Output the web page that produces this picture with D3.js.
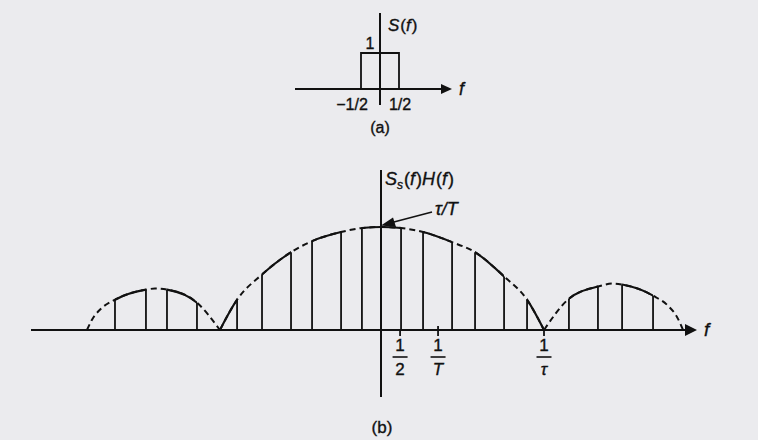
<!DOCTYPE html>
<html>
<head>
<meta charset="utf-8">
<script src="https://cdn.jsdelivr.net/npm/d3@7/dist/d3.min.js"></script>
<style>
  html, body { margin: 0; padding: 0; background: #ebebee; }
  svg { display: block; }
  text { font-family: "Liberation Sans", Arial, sans-serif; fill: #111; stroke: #111; stroke-width: 0.35; }
</style>
</head>
<body>
<svg id="chart" width="758" height="440"></svg>
<script>
// ---------- DATA (frequencies in units of 1/tau, amplitudes in units of tau/T) ----------
// (a) baseband spectrum S(f): rectangle from -1/2 to 1/2 of height 1
const rectSpanA = [-0.5, 0.5];
const rectHeightA = 1;
const ticksA = [{v: -0.5, label: "\u22121/2"}, {v: 0.5, label: "1/2"}];

// (b) envelope lobes of S_s(f)H(f)
const leftLobe = [
  [-1.804, 0], [-1.773, 0.10], [-1.718, 0.206], [-1.632, 0.294], [-1.442, 0.392],
  [-1.387, 0.402], [-1.313, 0.392], [-1.129, 0.265], [-0.988, 0]
];
const mainLobe = [
  [-0.988, 0], [-0.883, 0.294], [-0.730, 0.539], [-0.552, 0.755], [-0.423, 0.863],
  [-0.245, 0.951], [-0.117, 0.99], [0, 1], [0.123, 0.99], [0.258, 0.951],
  [0.436, 0.853], [0.577, 0.755], [0.755, 0.52], [0.896, 0.294], [1.0, 0]
];
const rightLobe = [
  [1.0, 0], [1.153, 0.304], [1.331, 0.422], [1.423, 0.451], [1.479, 0.441],
  [1.669, 0.333], [1.761, 0.235], [1.816, 0.127], [1.853, 0]
];
// spectral bands (solid top, vertical edges)
const bands = [
  [-1.632, -1.442], [-1.313, -1.129],
  [-0.988, -0.883], [-0.730, -0.552], [-0.423, -0.245], [-0.117, 0.123],
  [0.258, 0.436], [0.577, 0.755], [0.896, 1.0],
  [1.153, 1.331], [1.479, 1.669]
];
// tick marks and fraction labels on axis (b)
const ticksB = [
  {v: 0.117, num: "1", den: "2", italic: false},
  {v: 0.35, num: "1", den: "T", italic: true},
  {v: 1.0, num: "1", den: "\u03C4", italic: true}
];

// ---------- DRAWING ----------
const svg = d3.select("#chart");
const ink = "#111";

// ---- panel (a) ----
const xa = d3.scaleLinear().domain([0, 1]).range([380, 418]);
const ya = d3.scaleLinear().domain([0, 1]).range([89, 53]);
const ga = svg.append("g");
ga.append("line").attr("x1", 295).attr("x2", 445).attr("y1", ya(0)).attr("y2", ya(0))
  .attr("stroke", ink).attr("stroke-width", 2);
ga.append("path").attr("d", `M452,${ya(0)} L441,${ya(0) - 5} L441,${ya(0) + 5} Z`).attr("fill", ink);
ga.append("line").attr("x1", xa(0)).attr("x2", xa(0)).attr("y1", 13).attr("y2", 105)
  .attr("stroke", ink).attr("stroke-width", 2);
ga.append("path")
  .attr("d", `M${xa(rectSpanA[0])},${ya(0)} L${xa(rectSpanA[0])},${ya(rectHeightA)} L${xa(rectSpanA[1])},${ya(rectHeightA)} L${xa(rectSpanA[1])},${ya(0)}`)
  .attr("fill", "none").attr("stroke", ink).attr("stroke-width", 1.8);
ga.append("text").attr("x", 370).attr("y", 49).attr("text-anchor", "middle").attr("font-size", 16).text("1");
ga.append("text").attr("x", 388).attr("y", 31).attr("font-size", 17).attr("font-style", "italic")
  .html('S<tspan font-style="normal" dx="1">(</tspan>f<tspan font-style="normal" dx="1">)</tspan>');
ga.append("text").attr("x", 459).attr("y", 95).attr("font-size", 18).attr("font-style", "italic").text("f");
ga.append("text").attr("x", 352).attr("y", 110).attr("text-anchor", "middle").attr("font-size", 16).text(ticksA[0].label);
ga.append("text").attr("x", 400).attr("y", 110).attr("text-anchor", "middle").attr("font-size", 16).text(ticksA[1].label);
ga.append("text").attr("x", 380).attr("y", 133).attr("text-anchor", "middle").attr("font-size", 16).text("(a)");

// ---- panel (b) ----
const x = d3.scaleLinear().domain([0, 1]).range([381, 544]);
const y = d3.scaleLinear().domain([0, 1]).range([330, 227]);
const gb = svg.append("g");
const line = d3.line().x(d => x(d[0])).y(d => y(d[1])).curve(d3.curveMonotoneX);

// axes
gb.append("line").attr("x1", 31).attr("x2", 688).attr("y1", y(0)).attr("y2", y(0))
  .attr("stroke", ink).attr("stroke-width", 2.1);
gb.append("path").attr("d", `M697,${y(0)} L685,${y(0) - 6} L685,${y(0) + 6} Z`).attr("fill", ink);
gb.append("line").attr("x1", x(0)).attr("x2", x(0)).attr("y1", 170).attr("y2", 397)
  .attr("stroke", ink).attr("stroke-width", 2);

// clip paths for bands
const defs = svg.append("defs");
const clip = defs.append("clipPath").attr("id", "bandclip");
bands.forEach(b => {
  clip.append("rect").attr("x", x(b[0])).attr("y", 150).attr("width", x(b[1]) - x(b[0])).attr("height", 200);
});

const lobes = [leftLobe, mainLobe, rightLobe];
const lobePaths = [];
lobes.forEach(l => {
  const p = gb.append("path").attr("d", line(l)).attr("fill", "none").attr("stroke", ink)
    .attr("stroke-width", 2).attr("stroke-dasharray", "6,4");
  lobePaths.push(p.node());
  gb.append("path").attr("d", line(l)).attr("fill", "none").attr("stroke", ink)
    .attr("stroke-width", 2.1).attr("clip-path", "url(#bandclip)");
});

// sample the envelope to obtain heights at band edges
const samples = [];
lobePaths.forEach(n => {
  const L = n.getTotalLength();
  for (let s = 0; s <= L; s += 0.5) { const p = n.getPointAtLength(s); samples.push([p.x, p.y]); }
});
function envAt(px) {
  let best = null, bd = Infinity;
  samples.forEach(s => { const d = Math.abs(s[0] - px); if (d < bd) { bd = d; best = s; } });
  return best[1];
}
const edges = [];
bands.forEach(b => { edges.push(b[0]); edges.push(b[1]); });
gb.selectAll("line.edge").data(edges).enter().append("line").attr("class", "edge")
  .attr("x1", d => x(d)).attr("x2", d => x(d))
  .attr("y1", y(0)).attr("y2", d => envAt(x(d)))
  .attr("stroke", ink).attr("stroke-width", 1.8);

// ticks
ticksB.forEach(t => {
  gb.append("line").attr("x1", x(t.v)).attr("x2", x(t.v)).attr("y1", y(0) - (t.den === "T" ? 4 : 0)).attr("y2", y(0) + 6)
    .attr("stroke", ink).attr("stroke-width", 1.8);
  const cx = x(t.v);
  gb.append("text").attr("x", cx).attr("y", 351).attr("text-anchor", "middle").attr("font-size", 17).text(t.num);
  gb.append("line").attr("x1", cx - 7.5).attr("x2", cx + 7.5).attr("y1", 357).attr("y2", 357)
    .attr("stroke", ink).attr("stroke-width", 1.6);
  gb.append("text").attr("x", cx).attr("y", 375).attr("text-anchor", "middle").attr("font-size", 17)
    .attr("font-style", t.italic ? "italic" : "normal").text(t.den);
});

// labels
gb.append("text").attr("x", 385).attr("y", 185).attr("font-size", 18).attr("font-style", "italic")
  .html('S<tspan font-size="12" dy="4">s</tspan><tspan dy="-4" font-style="normal" dx="1">(</tspan>f<tspan font-style="normal" dx="1">)</tspan>H<tspan font-style="normal" dx="1">(</tspan>f<tspan font-style="normal" dx="1">)</tspan>');
gb.append("text").attr("x", 435).attr("y", 215).attr("font-size", 18).attr("font-style", "italic").text("\u03C4/T");
gb.append("line").attr("x1", 432).attr("y1", 212).attr("x2", 392).attr("y2", 222.5)
  .attr("stroke", ink).attr("stroke-width", 1.6);
gb.append("path").attr("d", "M381,225.5 L393,217.5 L396,227 Z").attr("fill", ink);
gb.append("text").attr("x", 704).attr("y", 336).attr("font-size", 19).attr("font-style", "italic").text("f");
gb.append("text").attr("x", 382).attr("y", 433).attr("text-anchor", "middle").attr("font-size", 17).text("(b)");
</script>
</body>
</html>
